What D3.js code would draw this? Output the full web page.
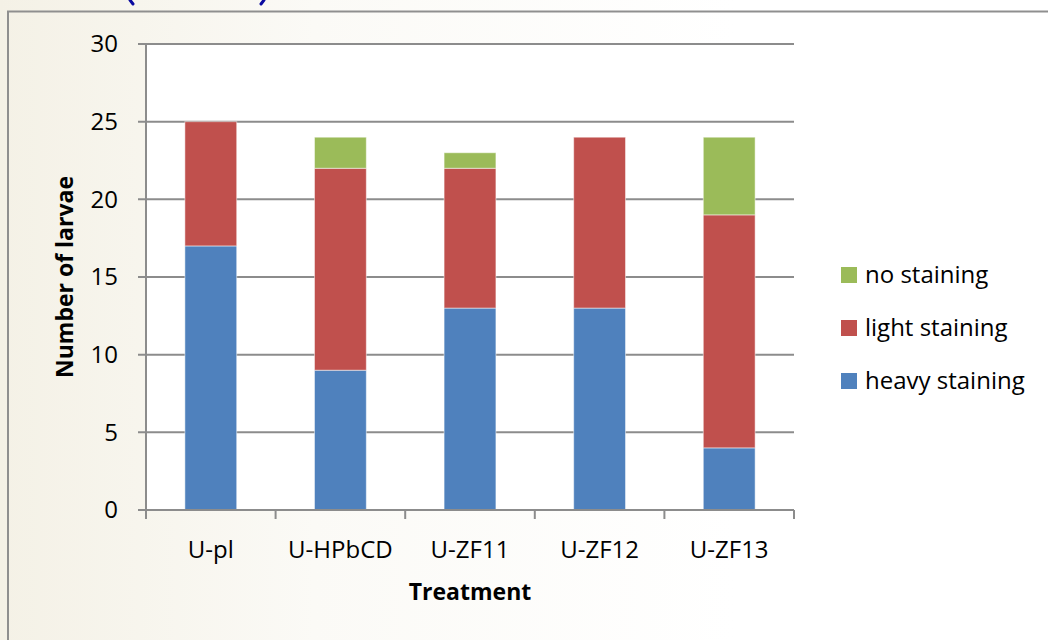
<!DOCTYPE html>
<html>
<head>
<meta charset="utf-8">
<script src="https://cdn.jsdelivr.net/npm/d3@7"></script>
<style>
  html, body { margin: 0; padding: 0; background: #fff; }
  svg { display: block; font-family: "Open Sans", "Noto Sans", sans-serif; }
</style>
</head>
<body>
<div id="chart"></div>
<script>
var treatments = ['U-pl', 'U-HPbCD', 'U-ZF11', 'U-ZF12', 'U-ZF13'];
var heavyStaining = [17, 9, 13, 13, 4];
var lightStaining = [8, 13, 9, 11, 15];
var noStaining = [0, 2, 1, 0, 5];
var yTicks = [0, 5, 10, 15, 20, 25, 30];

var seriesList = [
  { key: 'heavy', title: 'heavy staining', values: heavyStaining, color: '#4F81BD' },
  { key: 'light', title: 'light staining', values: lightStaining, color: '#C0504D' },
  { key: 'none', title: 'no staining', values: noStaining, color: '#9BBB59' }
];

var W = 1048, H = 640;
var margin = { left: 146, top: 44, right: 254, bottom: 130 };

var svg = d3.select('#chart').append('svg').attr('width', W).attr('height', H);

// slide background, beige on the left fading to white
var defs = svg.append('defs');
var grad = defs.append('linearGradient').attr('id', 'bg')
  .attr('x1', '0').attr('y1', '0').attr('x2', '1').attr('y2', '0');
grad.append('stop').attr('offset', '0').attr('stop-color', '#f4f1e6');
grad.append('stop').attr('offset', '0.3').attr('stop-color', '#fbfaf6');
grad.append('stop').attr('offset', '0.7').attr('stop-color', '#ffffff');
svg.append('rect').attr('width', W).attr('height', H).attr('fill', 'url(#bg)');

// chart frame
svg.append('rect').attr('x', 8).attr('y', 11.5).attr('width', W + 20).attr('height', H + 20)
  .attr('fill', 'none').attr('stroke', '#8f8f8f').attr('stroke-width', 2);

// cropped blue marks at top edge
svg.append('path').attr('d', 'M130,0 L133,4').attr('fill', 'none')
  .attr('stroke', '#0a0aa0').attr('stroke-width', 3).attr('stroke-linecap', 'round');
svg.append('path').attr('d', 'M264,0 L261,4').attr('fill', 'none')
  .attr('stroke', '#0a0aa0').attr('stroke-width', 3).attr('stroke-linecap', 'round');

var plotW = W - margin.left - margin.right;
var plotH = H - margin.top - margin.bottom;

var x = d3.scaleBand().domain(treatments).range([margin.left, margin.left + plotW]).paddingInner(0.6).paddingOuter(0.3);
var xBounds = d3.scaleLinear().domain([0, treatments.length]).range([margin.left, margin.left + plotW]);
var y = d3.scaleLinear().domain([0, 30]).range([margin.top + plotH, margin.top]);

svg.append('rect').attr('x', margin.left).attr('y', margin.top).attr('width', plotW).attr('height', plotH)
  .attr('fill', '#ffffff');

// gridlines
svg.append('g').selectAll('line').data(yTicks).enter().append('line')
  .attr('x1', margin.left - 8).attr('x2', margin.left + plotW)
  .attr('y1', function(d){ return y(d); }).attr('y2', function(d){ return y(d); })
  .attr('stroke', '#8c8c8c').attr('stroke-width', 2);

// stacked bars
var table = treatments.map(function(t, i){
  var row = { treatment: t };
  seriesList.forEach(function(s){ row[s.key] = s.values[i]; });
  return row;
});
var stacked = d3.stack().keys(seriesList.map(function(s){ return s.key; }))(table);

stacked.forEach(function(layer, li){
  svg.append('g').selectAll('rect').data(layer).enter().append('rect')
    .attr('x', function(d){ return x(d.data.treatment); })
    .attr('width', x.bandwidth())
    .attr('y', function(d){ return y(d[1]); })
    .attr('height', function(d){ return y(d[0]) - y(d[1]); })
    .attr('fill', seriesList[li].color)
    .attr('stroke', function(d){ return d[1] > d[0] ? '#ffffff' : 'none'; })
    .attr('stroke-opacity', 0.5)
    .attr('stroke-width', 1);
});

// axes lines
svg.append('line').attr('x1', margin.left).attr('x2', margin.left)
  .attr('y1', margin.top).attr('y2', margin.top + plotH)
  .attr('stroke', '#8c8c8c').attr('stroke-width', 2);
svg.append('line').attr('x1', margin.left - 8).attr('x2', margin.left + plotW)
  .attr('y1', y(0)).attr('y2', y(0))
  .attr('stroke', '#8c8c8c').attr('stroke-width', 2);
svg.append('g').selectAll('line').data(d3.range(treatments.length + 1)).enter().append('line')
  .attr('x1', function(d){ return xBounds(d); }).attr('x2', function(d){ return xBounds(d); })
  .attr('y1', y(0)).attr('y2', y(0) + 9)
  .attr('stroke', '#8c8c8c').attr('stroke-width', 2);

// tick labels
svg.append('g').selectAll('text').data(yTicks).enter().append('text')
  .attr('x', 118).attr('y', function(d){ return y(d); }).attr('dy', '0.35em')
  .attr('text-anchor', 'end').attr('font-size', 24).attr('fill', '#000')
  .text(function(d){ return d; });

svg.append('g').selectAll('text').data(treatments).enter().append('text')
  .attr('x', function(d){ return x(d) + x.bandwidth() / 2; }).attr('y', 558)
  .attr('text-anchor', 'middle').attr('font-size', 24).attr('fill', '#000')
  .text(function(d){ return d; });

// axis titles
svg.append('text').attr('x', 470).attr('y', 600).attr('text-anchor', 'middle')
  .attr('font-size', 23).attr('font-weight', 'bold').text('Treatment');
svg.append('text').attr('transform', 'translate(73,' + (margin.top + plotH / 2) + ') rotate(-90)')
  .attr('text-anchor', 'middle').attr('font-size', 23).attr('font-weight', 'bold').text('Number of larvae');

// legend, top to bottom: no, light, heavy
var legendItems = seriesList.slice().reverse();
var legend = svg.append('g').selectAll('g').data(legendItems).enter().append('g')
  .attr('transform', function(d, i){ return 'translate(841,' + (275 + i * 53) + ')'; });
legend.append('rect').attr('x', 0).attr('y', -8).attr('width', 16).attr('height', 16)
  .attr('fill', function(d){ return d.color; });
legend.append('text').attr('x', 24).attr('y', 0).attr('dy', '0.35em')
  .attr('font-size', 24).attr('fill', '#000').text(function(d){ return d.title; });
</script>
</body>
</html>
